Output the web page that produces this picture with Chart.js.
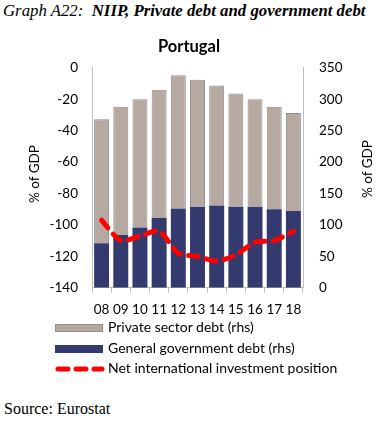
<!DOCTYPE html>
<html>
<head>
<meta charset="utf-8">
<script src="https://cdn.jsdelivr.net/npm/chart.js@4.4.1/dist/chart.umd.min.js"></script>
<style>
    body { margin: 0; background: #fff; }
    #wrap { position: relative; width: 378px; height: 424px; overflow: hidden; }
    #header { position: absolute; left: 3px; top: 1px; font-family: "Liberation Serif", serif; font-size: 16.8px; font-style: italic; white-space: nowrap; }
    #chartBox { position: absolute; left: 0; top: 28px; width: 378px; height: 299px; }
    .axisTitle { position: absolute; font-family: Lato, sans-serif; font-size: 13.5px; color: #000; white-space: nowrap; transform: translate(-50%, -50%) rotate(-90deg); }
    .legendRow { position: absolute; left: 55px; height: 14px; font-family: Lato, sans-serif; font-size: 14px; white-space: nowrap; }
    .legendRow .sw { position: absolute; left: 0; top: 3px; width: 48px; height: 8px; box-sizing: border-box; }
    .legendRow span { position: absolute; left: 53px; top: -3px; }
    #source { position: absolute; left: 4px; top: 400px; font-family: "Liberation Serif", serif; font-size: 16px; }
</style>
</head>
<body>
<div id="wrap">
    <div id="header">Graph A22: &nbsp;<b>NIIP, Private debt and government debt</b></div>
    <div id="chartBox"><canvas id="niipChart" width="378" height="299"></canvas></div>
    <div class="axisTitle" style="left:34px; top:174px;">% of GDP</div>
    <div class="axisTitle" style="left:367px; top:169px;">% of GDP</div>

    <div class="legendRow" style="top:321px;">
        <div class="sw" style="background:#B6A9A2; border:1px solid #8F8F8F;"></div>
        <span>Private sector debt (rhs)</span>
    </div>
    <div class="legendRow" style="top:342px;">
        <div class="sw" style="background:#333A6E;"></div>
        <span>General government debt (rhs)</span>
    </div>
    <div class="legendRow" style="top:362px;">
        <svg style="position:absolute; left:0; top:0;" width="50" height="14">
            <line x1="3" y1="7" x2="47" y2="7" stroke="#FF0000" stroke-width="5" stroke-linecap="round" stroke-dasharray="10 8"></line>
        </svg>
        <span>Net international investment position</span>
    </div>

    <div id="source">Source: Eurostat</div>
</div>

<script>
// Years (2008-2018)
const years = ['08', '09', '10', '11', '12', '13', '14', '15', '16', '17', '18'];

// % of GDP, right axis (stacked)
const govDebt = [71, 84, 96, 111, 126, 129, 131, 129, 129, 125, 122];
const privateDebt = [197, 204, 204, 204, 212, 202, 191, 180, 171, 163, 156];

// % of GDP, left axis
const niip = [-97, -110, -107, -104, -118, -120, -123, -119, -111, -110, -104];

const axisColor = '#BFBFBF';
const tickFont = { family: 'Lato', size: 13.5 };

function initChart() {
    const ctx = document.getElementById('niipChart').getContext('2d');
    new Chart(ctx, {
        type: 'bar',
        data: {
            labels: years,
            datasets: [
                {
                    type: 'line',
                    label: 'Net international investment position',
                    data: niip,
                    yAxisID: 'y',
                    borderColor: '#FF0000',
                    borderWidth: 5,
                    borderDash: [10, 8],
                    borderCapStyle: 'round',
                    pointRadius: 0,
                    tension: 0.25,
                    fill: false,
                    order: 0
                },
                {
                    label: 'General government debt (rhs)',
                    data: govDebt,
                    yAxisID: 'y1',
                    backgroundColor: '#333A6E',
                    borderWidth: 0,
                    barPercentage: 0.78,
                    categoryPercentage: 1,
                    order: 1
                },
                {
                    label: 'Private sector debt (rhs)',
                    data: privateDebt,
                    yAxisID: 'y1',
                    backgroundColor: '#B6A9A2',
                    borderColor: '#8F8F8F',
                    borderWidth: 1,
                    barPercentage: 0.78,
                    categoryPercentage: 1,
                    order: 1
                }
            ]
        },
        options: {
            responsive: false,
            animation: false,
            layout: { padding: { top: 0, bottom: 0, left: 0, right: 0 } },
            plugins: {
                title: {
                    display: true,
                    text: 'Portugal',
                    color: '#000',
                    font: { family: 'Lato', size: 16.5, weight: 'bold' },
                    padding: { top: 9, bottom: 11 }
                },
                legend: { display: false },
                tooltip: { enabled: false }
            },
            scales: {
                x: {
                    stacked: true,
                    offset: true,
                    grid: {
                        display: true,
                        offset: true,
                        drawOnChartArea: false,
                        drawTicks: true,
                        tickLength: 5,
                        color: axisColor
                    },
                    border: { display: true, color: axisColor },
                    ticks: { color: '#000', font: tickFont, padding: 9, maxRotation: 0 }
                },
                y: {
                    position: 'left',
                    min: -140,
                    max: 0,
                    grid: { display: false, drawTicks: false },
                    border: { display: true, color: axisColor },
                    ticks: { stepSize: 20, color: '#000', font: tickFont, padding: 14 },
                    afterFit: function (scale) { scale.width = 92; }
                },
                y1: {
                    position: 'right',
                    stacked: true,
                    min: 0,
                    max: 350,
                    grid: { display: false, drawTicks: false },
                    border: { display: true, color: axisColor },
                    ticks: { stepSize: 50, color: '#000', font: tickFont, padding: 16 },
                    afterFit: function (scale) { scale.width = 75; }
                }
            }
        }
    });
}

initChart();
</script>
</body>
</html>
